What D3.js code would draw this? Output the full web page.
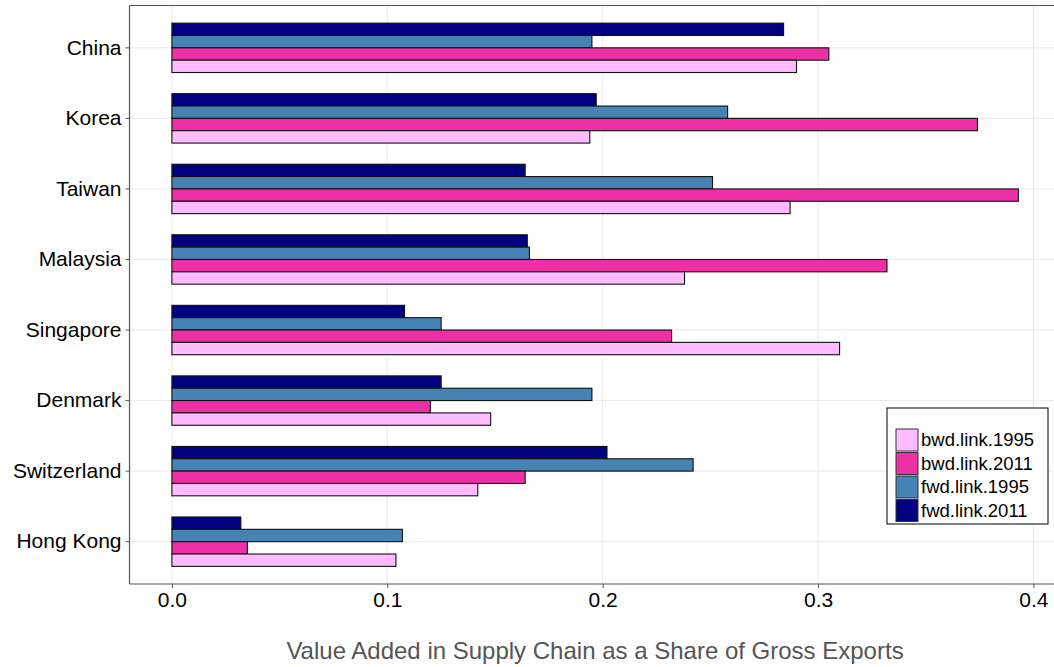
<!DOCTYPE html>
<html>
<head>
<meta charset="utf-8">
<script src="https://cdn.jsdelivr.net/npm/d3@7"></script>
<style>
  body { margin: 0; background: #fff; }
  text { font-family: "Liberation Sans", Arial, sans-serif; }
</style>
</head>
<body>
<div id="chart_container"></div>
<script>
// categories, top to bottom
var countries = ["China", "Korea", "Taiwan", "Malaysia", "Singapore", "Denmark", "Switzerland", "Hong Kong"];
// series, top to bottom inside each group
var seriesNames = ["fwd.link.2011", "fwd.link.1995", "bwd.link.2011", "bwd.link.1995"];
var legendNames = ["bwd.link.1995", "bwd.link.2011", "fwd.link.1995", "fwd.link.2011"];
// values
var fwd2011 = [0.284, 0.197, 0.164, 0.165, 0.108, 0.125, 0.202, 0.032];
var fwd1995 = [0.195, 0.258, 0.251, 0.166, 0.125, 0.195, 0.242, 0.107];
var bwd2011 = [0.305, 0.374, 0.393, 0.332, 0.232, 0.120, 0.164, 0.035];
var bwd1995 = [0.290, 0.194, 0.287, 0.238, 0.310, 0.148, 0.142, 0.104];
var xTicks = [0, 0.1, 0.2, 0.3, 0.4];
var colors = {
    "bwd.link.1995": "#FFBBFF",
    "bwd.link.2011": "#EE30A7",
    "fwd.link.1995": "#4682B4",
    "fwd.link.2011": "#000080"
};

var seriesValues = {
    "fwd.link.2011": fwd2011,
    "fwd.link.1995": fwd1995,
    "bwd.link.2011": bwd2011,
    "bwd.link.1995": bwd1995
};

var width = 1054, height = 667;
var panelLeft = 129.5, panelTop = 5.5, panelBottom = 584;

var svg = d3.select("#chart_container").append("svg")
    .attr("width", width)
    .attr("height", height);

// x scale (ggplot-like 5% expansion, panel runs off the right edge)
var x = d3.scaleLinear().domain([-0.0197, 0.4128]).range([panelLeft, 1061]);
var y = d3.scaleBand().domain(countries).range([panelTop, panelBottom])
    .paddingInner(0.3).paddingOuter(0.25);
var ySub = d3.scaleBand().domain(seriesNames).range([0, y.bandwidth()]);

// gridlines
svg.append("g").selectAll("line")
    .data(xTicks).enter().append("line")
    .attr("x1", function(d) { return x(d); })
    .attr("x2", function(d) { return x(d); })
    .attr("y1", panelTop).attr("y2", panelBottom)
    .attr("stroke", "#ebebeb").attr("stroke-width", 1.1);
svg.append("g").selectAll("line")
    .data(countries).enter().append("line")
    .attr("x1", panelLeft).attr("x2", width)
    .attr("y1", function(d) { return y(d) + y.bandwidth() / 2; })
    .attr("y2", function(d) { return y(d) + y.bandwidth() / 2; })
    .attr("stroke", "#ebebeb").attr("stroke-width", 1.1);

// bars
var groups = svg.append("g").selectAll("g")
    .data(countries).enter().append("g")
    .attr("transform", function(d) { return "translate(0," + y(d) + ")"; });

groups.selectAll("rect")
    .data(function(c, i) {
        return seriesNames.map(function(s) { return { key: s, value: seriesValues[s][i] }; });
    })
    .enter().append("rect")
    .attr("x", x(0))
    .attr("y", function(d) { return ySub(d.key); })
    .attr("width", function(d) { return x(d.value) - x(0); })
    .attr("height", ySub.bandwidth())
    .attr("fill", function(d) { return colors[d.key]; })
    .attr("stroke", "#111")
    .attr("stroke-width", 1.1);

// panel top line
svg.append("line").attr("x1", panelLeft).attr("x2", width).attr("y1", panelTop).attr("y2", panelTop)
    .attr("stroke", "#555").attr("stroke-width", 1.2);

// x axis
var xAxis = svg.append("g")
    .attr("transform", "translate(0," + panelBottom + ")")
    .call(d3.axisBottom(x).tickValues(xTicks).tickFormat(d3.format(".1f")).tickSize(4).tickPadding(4));
xAxis.select(".domain").attr("d", "M" + panelLeft + ",0H" + width).attr("stroke", "#555").attr("stroke-width", 1.2);
xAxis.selectAll(".tick line").attr("stroke", "#555");
xAxis.selectAll("text").attr("font-size", 21).attr("fill", "#000");

// y axis
var yAxis = svg.append("g")
    .attr("transform", "translate(" + panelLeft + ",0)")
    .call(d3.axisLeft(y).tickSize(4).tickPadding(4));
yAxis.select(".domain").attr("d", "M0," + panelTop + "V" + panelBottom).attr("stroke", "#555").attr("stroke-width", 1.2);
yAxis.selectAll(".tick line").attr("stroke", "#555");
yAxis.selectAll("text").attr("font-size", 21).attr("fill", "#000");

// axis title
svg.append("text")
    .attr("x", 595).attr("y", 659)
    .attr("text-anchor", "middle")
    .attr("font-size", 24)
    .attr("fill", "#555")
    .text("Value Added in Supply Chain as a Share of Gross Exports");

// legend
var lg = svg.append("g").attr("transform", "translate(887,408)");
lg.append("rect").attr("width", 161).attr("height", 116)
    .attr("fill", "#fff").attr("stroke", "#000").attr("stroke-width", 1);
var items = lg.selectAll("g.item")
    .data(legendNames).enter().append("g")
    .attr("class", "item")
    .attr("transform", function(d, i) { return "translate(9," + (21 + i * 23.5) + ")"; });
items.append("rect")
    .attr("width", 22).attr("height", 22)
    .attr("fill", function(d) { return colors[d]; })
    .attr("stroke", "#333").attr("stroke-width", 1);
items.append("text")
    .attr("x", 25).attr("y", 11).attr("dy", "0.35em")
    .attr("font-size", 18.5)
    .text(function(d) { return d; });
</script>
</body>
</html>
